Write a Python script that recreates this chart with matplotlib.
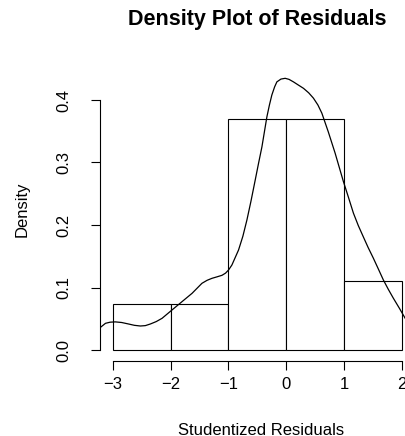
import matplotlib
matplotlib.use("Agg")
import matplotlib.pyplot as plt

plt.rcParams['font.family'] = ['Liberation Sans', 'DejaVu Sans']

bin_edges = [-3, -2, -1, 0, 1, 2]
bin_density = [0.074, 0.074, 0.370, 0.370, 0.111]

curve_x = [-3.22, -3.13, -3.05, -2.96, -2.85, -2.73, -2.63, -2.526, -2.44, -2.353,
           -2.25, -2.15, -1.978, -1.805, -1.63, -1.459, -1.37, -1.285, -1.20, -1.112,
           -1.05, -0.998, -0.94, -0.825, -0.75, -0.68, -0.61, -0.536, -0.48, -0.42,
           -0.334, -0.29, -0.248, -0.20, -0.161, -0.09, -0.017, 0.05, 0.126, 0.21,
           0.30, 0.39, 0.472, 0.55, 0.618, 0.73, 0.848, 0.99, 1.08, 1.165,
           1.25, 1.337, 1.42, 1.51, 1.60, 1.684, 1.77, 1.856, 1.96, 2.06, 2.12]
curve_y = [0.036, 0.0427, 0.0445, 0.045, 0.0440, 0.0416, 0.0395, 0.0384, 0.0390, 0.0416,
           0.0455, 0.0507, 0.064, 0.0773, 0.0907, 0.1067, 0.1115, 0.1147, 0.1170, 0.1195,
           0.1230, 0.128, 0.136, 0.160, 0.182, 0.208, 0.238, 0.272, 0.298, 0.325,
           0.373, 0.392, 0.408, 0.421, 0.429, 0.4335, 0.4347, 0.4330, 0.429, 0.424,
           0.4187, 0.4115, 0.403, 0.392, 0.379, 0.349, 0.315, 0.270, 0.244, 0.219,
           0.199, 0.181, 0.164, 0.147, 0.129, 0.112, 0.097, 0.083, 0.067, 0.051, 0.043]

x_ticks = [-3, -2, -1, 0, 1, 2]
y_ticks = [0.0, 0.1, 0.2, 0.3, 0.4]
y_ticklabels = ["0.0", "0.1", "0.2", "0.3", "0.4"]

W, H = 406, 436
ax_l, ax_b, ax_w, ax_h = 100, 75, 306, 297

fig = plt.figure(figsize=(W/100, H/100), dpi=100)
ax = fig.add_axes([ax_l/W, ax_b/H, ax_w/W, ax_h/H])

widths = [bin_edges[i+1] - bin_edges[i] for i in range(len(bin_density))]
ax.bar(bin_edges[:-1], bin_density, width=widths, align='edge',
       facecolor='white', edgecolor='black', linewidth=0.8)
ax.plot(curve_x, curve_y, color='black', linewidth=0.9)

ax.set_xlim(-3.225, 2.076)
ax.set_ylim(-0.0176, 0.4576)

for s in ['top', 'right']:
    ax.spines[s].set_visible(False)
ax.spines['bottom'].set_bounds(-3, 2)
ax.spines['left'].set_bounds(0, 0.4)
ax.spines['bottom'].set_linewidth(0.8)
ax.spines['left'].set_linewidth(0.8)

ax.set_xticks(x_ticks)
ax.set_yticks(y_ticks)
ax.set_yticklabels(y_ticklabels, rotation=90, va='center')
ax.tick_params(axis='both', direction='out', length=6.5, width=0.8, labelsize=12)
ax.tick_params(axis='x', pad=5)
ax.tick_params(axis='y', pad=14)

ax.set_xlabel("Studentized Residuals", fontsize=12)
ax.xaxis.label.set_va('center')
ax.xaxis.set_label_coords((261.5 - ax_l) / ax_w, ((H - 430) - ax_b) / ax_h)
ax.set_ylabel("Density", fontsize=12)
ax.yaxis.label.set_va('center')
ax.yaxis.set_label_coords((22 - ax_l) / ax_w, ((H - 209) - ax_b) / ax_h)

ax.text((257 - ax_l) / ax_w, ((H - 20) - ax_b) / ax_h, "Density Plot of Residuals",
        transform=ax.transAxes, ha='center', va='center',
        fontsize=15.5, fontweight='bold')

fig.savefig("out.png", dpi=100)
